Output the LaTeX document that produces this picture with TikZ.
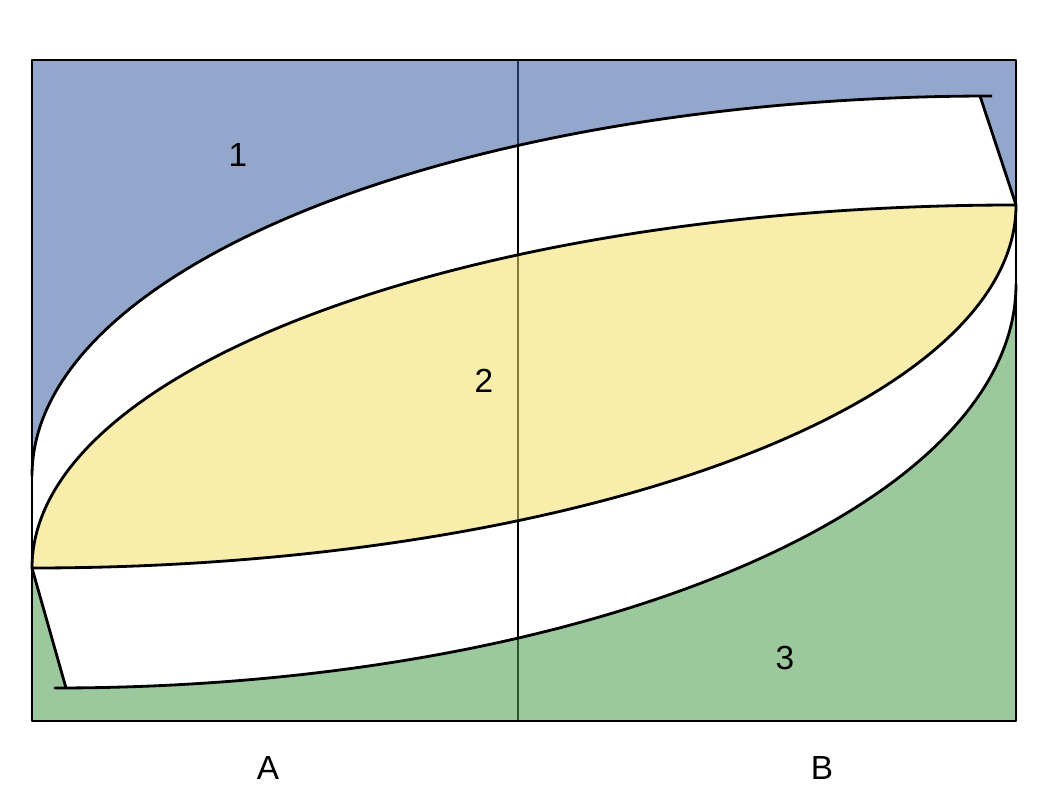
\documentclass[tikz,border=0pt]{standalone}
\usepackage{fontspec}
\setmainfont{Liberation Sans}
\definecolor{bluefill}{RGB}{58,92,160}
\definecolor{greenfill}{RGB}{72,155,76}
\definecolor{yellowfill}{RGB}{242,222,100}
\begin{document}
\begin{tikzpicture}[x=0.02cm,y=0.02cm,line join=round,
  outline/.style={draw=black,line width=1.6pt},
  region/.style={fill opacity=0.55},
  lbl/.style={font=\fontsize{19}{22}\selectfont,inner sep=0pt}]
\useasboundingbox (0,0) rectangle (1043,811);
% divider line (below the translucent fills)
\coordinate (vtop) at (518,751);
\coordinate (vbot) at (518,90);
\draw[line width=1.5pt] (vtop) -- (vbot);
% blue region (top)
\fill[bluefill,region] (32,751) -- (1016,751) -- (1016,606) -- (980,715) -- (992,715)
  arc[start angle=90,end angle=180,x radius=960,y radius=380] -- cycle;
% green region (bottom)
\fill[greenfill,region] (32,90) -- (1016,90) -- (1016,527)
  arc[start angle=0,end angle=-90,x radius=961,y radius=404] -- (66,123) -- (32,243) -- cycle;
% yellow lens
\fill[yellowfill,region] (32,243)
  arc[start angle=180,end angle=90,x radius=984,y radius=363]
  arc[start angle=0,end angle=-90,x radius=984,y radius=363] -- cycle;
% outlines
\draw[outline] (32,243)
  arc[start angle=180,end angle=90,x radius=984,y radius=363]
  arc[start angle=0,end angle=-90,x radius=984,y radius=363] -- cycle;
\draw[outline] (992,715) arc[start angle=90,end angle=180,x radius=960,y radius=380];
\draw[outline] (1016,527) arc[start angle=0,end angle=-90,x radius=961,y radius=404] -- (66,123);
\draw[outline] (980,715) -- (1016,606);
\draw[outline] (66,123) -- (32,243);
\draw[line width=1.5pt] (32,90) rectangle (1016,751);
% labels
\node[lbl] (l1) at (238,656) {1};
\node[lbl] (l2) at (484,430) {2};
\node[lbl] (l3) at (785,153) {3};
\node[lbl] (lA) at (268,43) {A};
\node[lbl] (lB) at (822,43) {B};
\end{tikzpicture}
\end{document}
